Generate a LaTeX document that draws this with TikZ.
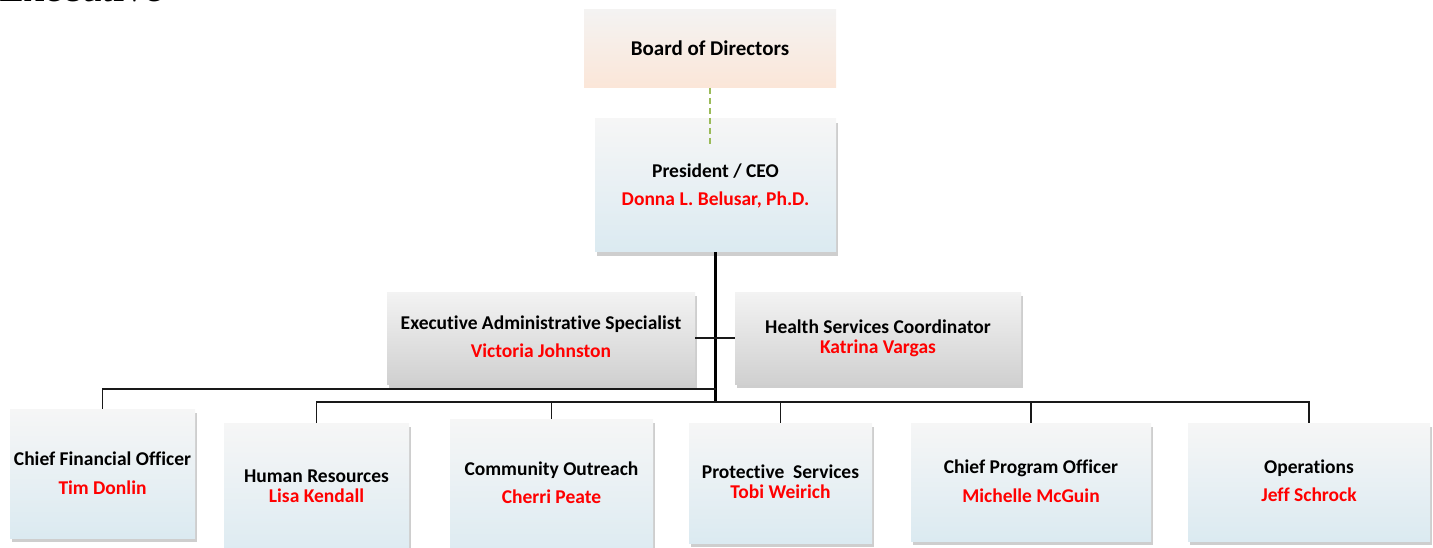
\documentclass[tikz,border=0pt]{standalone}
\usepackage{fontspec}
\setmainfont{Carlito}[Ligatures=NoCommon]
\newfontfamily\headserif{Liberation Serif}
\usetikzlibrary{shadows}
\definecolor{boardtop}{HTML}{F4F3F2}
\definecolor{boardbot}{HTML}{FBE6D8}
\definecolor{bluetop}{HTML}{F6F6F6}
\definecolor{bluebot}{HTML}{DBEAF1}
\definecolor{graytop}{HTML}{F3F3F3}
\definecolor{graybot}{HTML}{D0D0D0}
\definecolor{namered}{HTML}{FF0000}
\definecolor{dashgreen}{HTML}{9BBB59}
\begin{document}
\begin{tikzpicture}[x=1pt,y=-1pt,
  shade/.style={drop shadow={shadow xshift=2pt,shadow yshift=-4pt,opacity=0.35,fill=black!55}},
  boxbase/.style={draw=none,inner sep=0pt,outer sep=0pt},
  bluebox/.style={boxbase,shade,top color=bluetop,bottom color=bluebot},
  graybox/.style={boxbase,shade,top color=graytop,bottom color=graybot},
  boardbox/.style={boxbase,top color=boardtop,bottom color=boardbot},
  title/.style={inner sep=0pt,text height=13pt,text depth=0pt,font=\fontsize{19.5}{22}\selectfont\bfseries},
  person/.style={title,text=namered},
  conn/.style={line width=1.8pt,black!90},
  trunk/.style={line width=2.6pt,black}]
\useasboundingbox (0,0) rectangle (1433,548);

% clipped heading text at the top-left
\begin{scope}
\clip (0,0) rectangle (1433,548);
\node[anchor=base west,inner sep=0pt,font=\headserif\fontsize{41}{44}\selectfont] (head) at (-1,2) {Executive};
\end{scope}

% boxes
\node[boardbox,minimum width=252pt,minimum height=78pt] (board) at (710,49) {};
\node[bluebox,minimum width=241pt,minimum height=133pt] (ceo) at (715.5,185.5) {};
\node[graybox,minimum width=308pt,minimum height=92pt] (exec) at (541,338) {};
\node[graybox,minimum width=286pt,minimum height=92pt] (health) at (878,338) {};
\node[bluebox,minimum width=185pt,minimum height=129pt] (cfo) at (102.5,473.5) {};
\node[bluebox,minimum width=185pt,minimum height=140pt] (hr) at (316.5,493) {};
\node[bluebox,minimum width=203pt,minimum height=144pt] (co) at (551.5,491) {};
\node[bluebox,minimum width=183pt,minimum height=120pt] (ps) at (780.5,483) {};
\node[bluebox,minimum width=240pt,minimum height=118pt] (cpo) at (1031,482) {};
\node[bluebox,minimum width=242pt,minimum height=118pt] (ops) at (1309,482) {};

% texts
\node[title,font=\fontsize{21}{24}\selectfont\bfseries] (boardt) at (710,49) {Board of Directors};
\node[title] (ceot) at (715.5,171) {President / CEO};
\node[person] (ceon) at (715.5,199) {Donna L. Belusar, Ph.D.};
\node[title] (exect) at (541,323) {Executive Administrative Specialist};
\node[person] (execn) at (541,351) {Victoria Johnston};
\node[title] (healtht) at (878,327) {Health Services Coordinator};
\node[person] (healthn) at (878,347) {Katrina Vargas};
\node[title] (cfot) at (102.5,459) {Chief Financial Officer};
\node[person] (cfon) at (102.5,488) {Tim Donlin};
\node[title] (hrt) at (316.5,476) {Human Resources};
\node[person] (hrn) at (316.5,496) {Lisa Kendall};
\node[title] (cot) at (551.5,469) {Community Outreach};
\node[person] (con) at (551.5,497) {Cherri Peate};
\node[title] (pst) at (780.5,472) {Protective~ Services};
\node[person] (psn) at (780.5,492) {Tobi Weirich};
\node[title] (cpot) at (1031,467) {Chief Program Officer};
\node[person] (cpon) at (1031,496) {Michelle McGuin};
\node[title] (opst) at (1309,467) {Operations};
\node[person] (opsn) at (1309,495) {Jeff Schrock};

% connectors
\coordinate (dashend) at (710,147);
\draw[dashgreen,line width=1.7pt,dash pattern=on 6pt off 4pt] (board.south) -- (dashend);
\coordinate (bus) at (715.5,402);
\coordinate (cfobus) at (715.5,389);
\draw[trunk] (ceo.south) -- (bus);
\draw[conn] (exec.east) -- (health.west);
\draw[conn] (cfobus) -| (cfo.north);
\draw[conn] (hr.north) |- (bus);
\draw[conn] (co.north) |- (bus);
\draw[conn] (bus) -| (ps.north);
\draw[conn] (bus) -| (cpo.north);
\draw[conn] (bus) -| (ops.north);
\end{tikzpicture}
\end{document}
